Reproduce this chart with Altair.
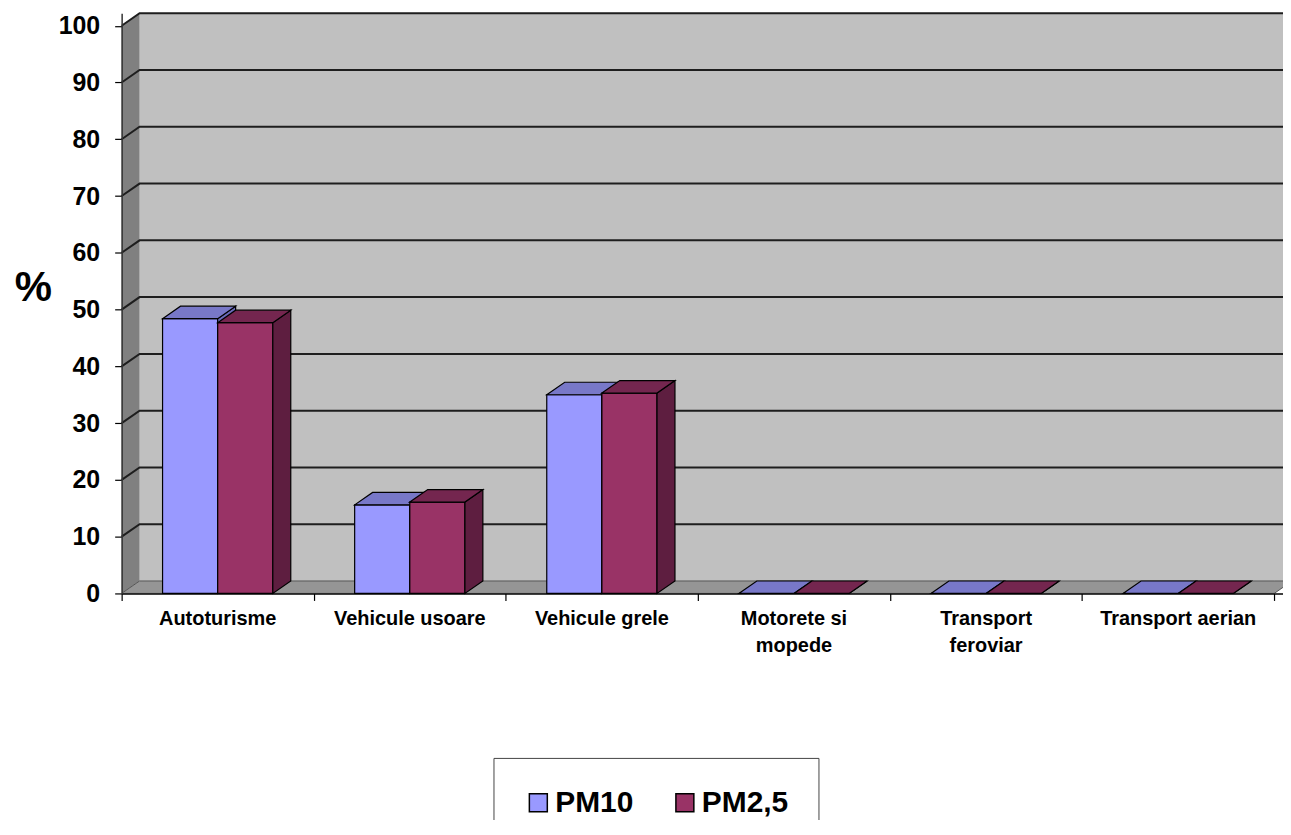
import altair as alt
import pandas as pd

# ---------------- data ----------------
categories = ["Autoturisme", "Vehicule usoare", "Vehicule grele",
              "Motorete si\nmopede", "Transport\nferoviar", "Transport aerian"]
series = ["PM10", "PM2,5"]
pm10 = [48.4, 15.6, 35.0, 0.0, 0.0, 0.0]
pm25 = [47.7, 16.1, 35.3, 0.0, 0.0, 0.0]
y_ticks = list(range(0, 101, 10))

# ---------------- geometry / style ----------------
FONT = "Liberation Sans"
PX_CAT = 192.7          # pixels per category
PX_UNIT = 5.695         # pixels per % unit
DX = 18 / PX_CAT        # depth offset in x (category units)
DV = 12.5 / PX_UNIT     # depth offset in y (% units)
N = len(categories)
W = 1165
D = W / PX_CAT
YTOP = 100 + DV
H = round(YTOP * PX_UNIT)
BAR_START = 0.213
BAR_W = 0.287

face_colors = ["#9999FF", "#993366"]
top_colors = ["#7878C8", "#74264F"]
side_colors = ["#6A6ABA", "#5E1E40"]

xscale = alt.Scale(domain=[0, D], nice=False, zero=False)
yscale = alt.Scale(domain=[0, YTOP], nice=False, zero=False)

xaxis = alt.Axis(values=list(range(N + 1)), labels=False, tickSize=7,
                 tickColor="black", tickWidth=1.2, domainColor="black",
                 domainWidth=1.5, title=None, grid=False, zindex=1)
yaxis = alt.Axis(values=y_ticks, title="%", titleAngle=0, titleFontSize=42,
                 titleFontWeight="bold", titleFont=FONT, titleColor="black",
                 titleX=-89, titleY=275, titleAlign="center",
                 titleBaseline="middle", labelFontSize=25,
                 labelFontWeight="bold", labelFont=FONT, labelColor="black",
                 tickSize=7, tickColor="black", tickWidth=1.2, labelPadding=15,
                 domain=True, domainColor="#333333", domainWidth=1.5,
                 grid=False, zindex=1)


def X(field="x"):
    return alt.X(f"{field}:Q", scale=xscale, axis=xaxis)


def Y(field="hi"):
    return alt.Y(f"{field}:Q", scale=yscale, axis=yaxis, stack=None)


# walls / floor
back_df = pd.DataFrame([dict(x=DX, x2=D, lo=DV, hi=100 + DV)])
left_df = pd.DataFrame([dict(pid=0, x=0, lo=0, hi=100),
                        dict(pid=0, x=DX, lo=DV, hi=100 + DV)])
floor_df = pd.DataFrame([dict(pid=0, x=0, lo=0, hi=0),
                         dict(pid=0, x=DX, lo=0, hi=DV),
                         dict(pid=0, x=N, lo=0, hi=DV),
                         dict(pid=0, x=N + DX, lo=DV, hi=DV)])
grid_rows = []
for t in y_ticks[1:]:
    grid_rows += [dict(pid=t, x=0, y=t), dict(pid=t, x=DX, y=t + DV),
                  dict(pid=t, x=D, y=t + DV)]
grid_df = pd.DataFrame(grid_rows)

back = alt.Chart(back_df).mark_rect(fill="#C0C0C0").encode(
    x=X(), x2="x2:Q", y=Y("hi"), y2="lo:Q")
left = alt.Chart(left_df).mark_area(fill="#808080", orient="vertical").encode(
    x=X(), y=Y("hi"), y2="lo:Q", detail="pid:N")
floor = alt.Chart(floor_df).mark_area(fill="#959595", stroke="#555555", strokeWidth=1,
                                      orient="vertical", clip=True).encode(
    x=X(), y=Y("hi"), y2="lo:Q", detail="pid:N")
grid = alt.Chart(grid_df).mark_line(color="#1E1E1E", strokeWidth=2).encode(
    x=X(), y=Y("y"), detail="pid:N")

layers = [back, left, floor, grid]

values = [pm10, pm25]
for s_idx, (name, vals) in enumerate(zip(series, values)):
    face_rows, side_rows, top_rows = [], [], []
    for i, v in enumerate(vals):
        x0 = i + BAR_START + s_idx * BAR_W
        x1 = x0 + BAR_W
        face_rows.append(dict(series=name, x=x0, x2=x1, lo=0, hi=v))
        side_rows += [dict(pid=i, x=x1, lo=0, hi=v),
                      dict(pid=i, x=x1 + DX, lo=DV, hi=v + DV)]
        top_rows += [dict(pid=i, x=x0, lo=v, hi=v),
                     dict(pid=i, x=x0 + DX, lo=v, hi=v + DV),
                     dict(pid=i, x=x1, lo=v, hi=v + DV),
                     dict(pid=i, x=x1 + DX, lo=v + DV, hi=v + DV)]
    face = alt.Chart(pd.DataFrame(face_rows)).mark_rect(
        stroke="black", strokeWidth=1.2, opacity=1).encode(
        x=X(), x2="x2:Q", y=Y("hi"), y2="lo:Q",
        color=alt.Color("series:N",
                        scale=alt.Scale(domain=series, range=face_colors),
                        legend=alt.Legend(
                            title=None, orient="none", legendX=373, legendY=747,
                            direction="horizontal", symbolType="square",
                            symbolSize=324, symbolStrokeColor="black",
                            symbolStrokeWidth=1.5, symbolOpacity=1,
                            labelFontSize=30, labelFontWeight="bold", labelFont=FONT,
                            labelColor="black", labelOffset=2, columnPadding=36,
                            padding=30, strokeColor="#444444", fillColor="white")),
    )
    side = alt.Chart(pd.DataFrame(side_rows)).mark_area(
        fill=side_colors[s_idx], stroke="black", strokeWidth=1.2,
        orient="vertical").encode(x=X(), y=Y("hi"), y2="lo:Q", detail="pid:N")
    top = alt.Chart(pd.DataFrame(top_rows)).mark_area(
        fill=top_colors[s_idx], stroke="black", strokeWidth=1.2,
        orient="vertical").encode(x=X(), y=Y("hi"), y2="lo:Q", detail="pid:N")
    layers += [face, side, top]

label_df = pd.DataFrame(dict(xc=[i + 0.5 for i in range(N)], label=categories))
labels = alt.Chart(label_df).mark_text(
    font=FONT, fontSize=20, fontWeight="bold", lineBreak="\n", lineHeight=27,
    align="center", baseline="alphabetic", color="black").encode(
    x=X("xc"), y=alt.value(614), text="label:N")
layers.append(labels)

chart = alt.layer(*layers).properties(
    width=W, height=H,
    padding={"left": 114, "top": 4, "right": 0, "bottom": 226},
    autosize=alt.AutoSizeParams(type="none"),
    background="white",
).configure_view(stroke=None)

chart.save("out.html", embed_options={"renderer": "svg", "actions": False})
